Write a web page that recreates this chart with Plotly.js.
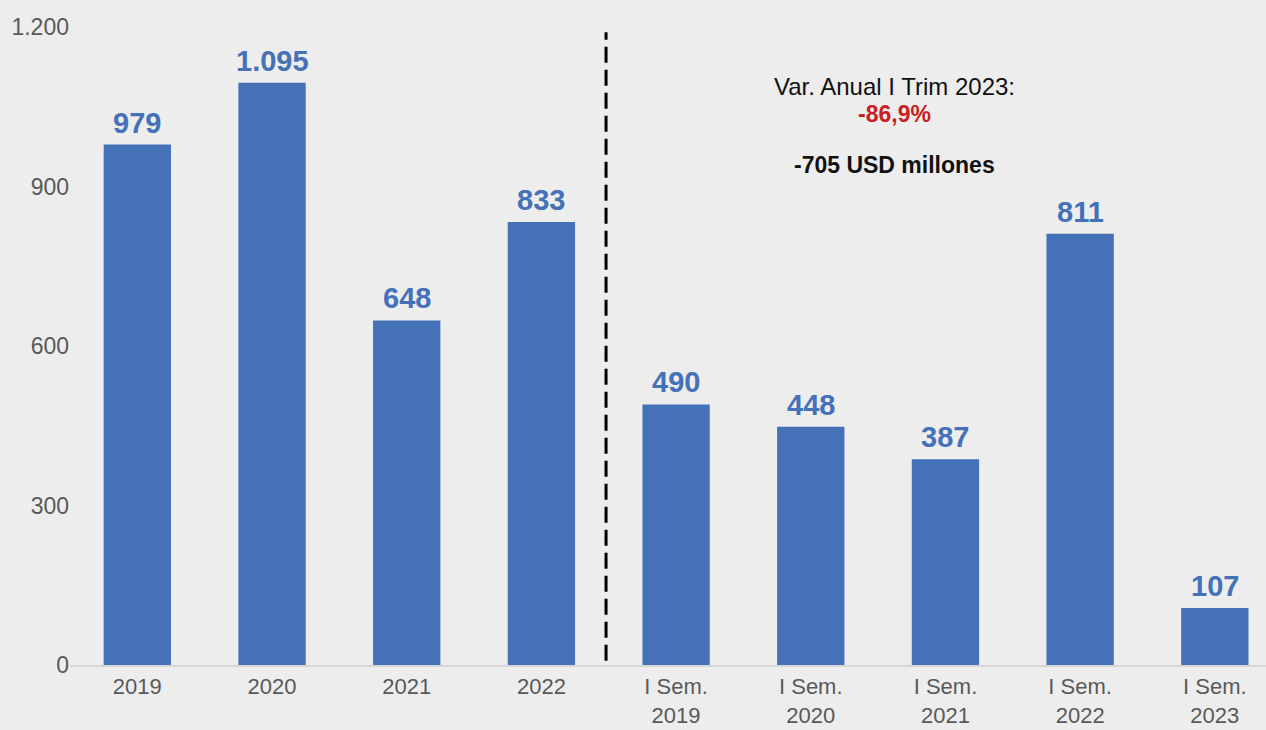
<!DOCTYPE html>
<html>
<head>
<meta charset="utf-8">
<script src="https://cdn.plot.ly/plotly-3.0.1.min.js"></script>
<style>html,body{margin:0;padding:0;background:#ededed;}#chart{width:1266px;height:730px;}</style>
</head>
<body>
<div id="chart"></div>
<script>
var categories = ["2019", "2020", "2021", "2022", "I Sem.<br>2019", "I Sem.<br>2020", "I Sem.<br>2021", "I Sem.<br>2022", "I Sem.<br>2023"];
var values = [979, 1095, 648, 833, 490, 448, 387, 811, 107];
var yTicks = [0, 300, 600, 900, 1200];
var yTickLabels = ["0", "300", "600", "900", "1.200"];
var noteLine1 = "Var. Anual I Trim 2023:";
var noteLine2 = "-86,9%";
var noteLine3 = "-705 USD millones";

function fmt(v) {
  var s = String(v);
  return s.replace(/\B(?=(\d{3})+(?!\d))/g, ".");
}

var xs = categories.map(function (c, i) { return i; });
var FONT = "Liberation Sans, Arial, sans-serif";

var trace = {
  type: "bar",
  x: xs,
  y: values,
  width: 0.5,
  marker: { color: "#4571b8" },
  hoverinfo: "none"
};

var annotations = values.map(function (v, i) {
  return {
    x: i, y: v, xref: "x", yref: "y",
    text: "<b>" + fmt(v) + "</b>",
    showarrow: false, yanchor: "bottom", yshift: 4,
    font: { family: FONT, size: 29, color: "#4571b8" }
  };
});

annotations.push({
  x: 5.62, y: 1089, xref: "x", yref: "y", text: noteLine1, showarrow: false,
  font: { family: FONT, size: 24, color: "#111111" }
});
annotations.push({
  x: 5.62, y: 1037, xref: "x", yref: "y", text: "<b>" + noteLine2 + "</b>", showarrow: false,
  font: { family: FONT, size: 23, color: "#c8201f" }
});
annotations.push({
  x: 5.62, y: 940, xref: "x", yref: "y", text: "<b>" + noteLine3 + "</b>", showarrow: false,
  font: { family: FONT, size: 23, color: "#111111" }
});

var layout = {
  width: 1266, height: 730,
  paper_bgcolor: "#ededed", plot_bgcolor: "#ededed",
  margin: { l: 70, r: 0, t: 27, b: 64.5, pad: 0 },
  showlegend: false,
  separators: ",.",
  xaxis: {
    range: [-0.5, 8.38],
    tickmode: "array", tickvals: xs, ticktext: categories,
    showgrid: false, zeroline: false,
    showline: true, linecolor: "#d6d6d6", linewidth: 2,
    ticks: "", fixedrange: true, ticklabelstandoff: 1,
    tickfont: { family: FONT, size: 22, color: "#595959" }
  },
  yaxis: {
    range: [0, 1200],
    tickmode: "array", tickvals: yTicks, ticktext: yTickLabels,
    showgrid: false, zeroline: false, showline: false,
    ticks: "", fixedrange: true,
    tickfont: { family: FONT, size: 23, color: "#595959" }
  },
  shapes: [{
    type: "line", xref: "x", yref: "y",
    x0: 3.48, x1: 3.48, y0: 8, y1: 1190,
    line: { color: "#000000", width: 3, dash: "16px,7px" }
  }],
  annotations: annotations
};

Plotly.newPlot("chart", [trace], layout, { displayModeBar: false, staticPlot: true });
</script>
</body>
</html>
